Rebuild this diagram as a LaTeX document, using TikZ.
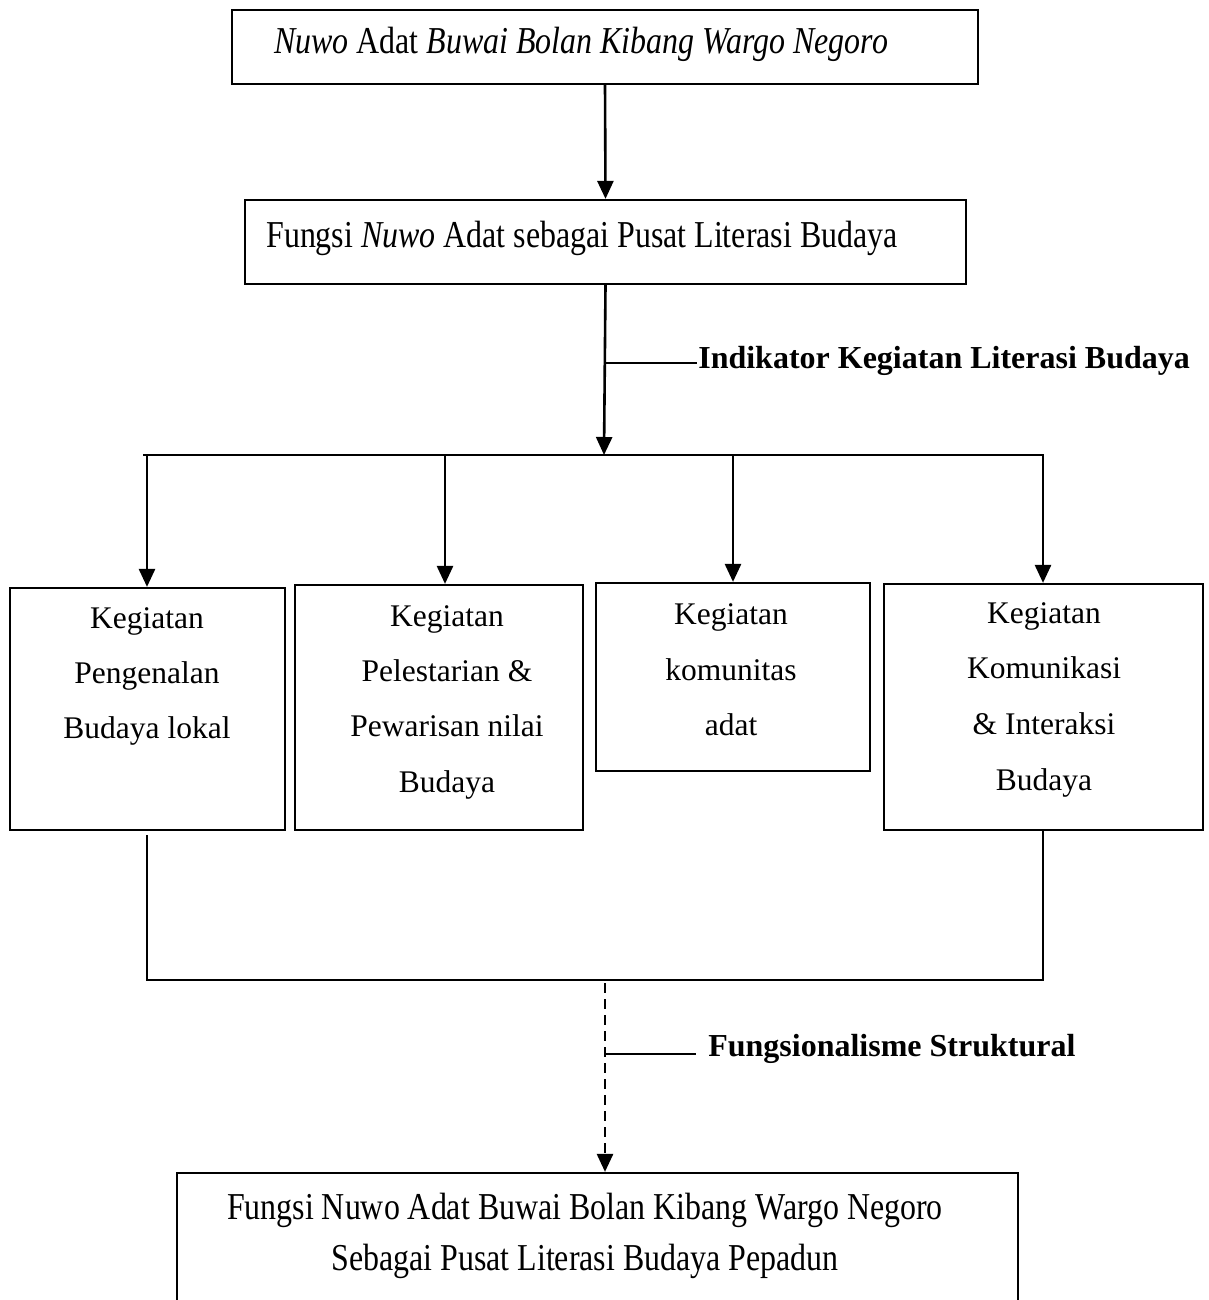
\documentclass[tikz,border=0pt]{standalone}
\usepackage{fontspec}
\setmainfont{Liberation Serif}
\newfontfamily\condf[FakeStretch=0.84]{Liberation Serif}
\usetikzlibrary{arrows.meta}
\begin{document}
\begin{tikzpicture}[x=1pt,y=-1pt, line width=2.6pt,
  box/.style={draw, line width=2.2pt, inner sep=0pt},
  arr/.style={-{Triangle[length=18pt,width=16pt]}},
  dashline/.style={dash pattern=on 10pt off 6pt},
  condtxt/.style={font=\condf\fontsize{38}{46}\selectfont, inner sep=0pt, anchor=base west},
  condc/.style={font=\condf\fontsize{38}{46}\selectfont, inner sep=0pt, anchor=base},
  acttxt/.style={font=\fontsize{31.5}{38}\selectfont, inner sep=0pt, anchor=base},
  boldlbl/.style={font=\bfseries\fontsize{32}{38}\selectfont, inner sep=0pt, anchor=base west}]
\useasboundingbox (0,0) rectangle (1209,1300);

% top boxes
\node[box, minimum width=746pt, minimum height=74pt] (top) at (605,47) {};
\node[condtxt] (toptxt) at (273,54) {{\itshape Nuwo} Adat {\itshape Buwai Bolan Kibang Wargo Negoro}};
\node[box, minimum width=721pt, minimum height=84pt] (fun) at (605.5,242) {};
\node[condtxt] (funtxt) at (265,247) {Fungsi {\itshape Nuwo} Adat sebagai Pusat Literasi Budaya};

% activity boxes
\node[box, minimum width=275pt, minimum height=242pt] (A) at (147.5,709) {};
\node[box, minimum width=288pt, minimum height=245pt] (B) at (439,707.5) {};
\node[box, minimum width=274pt, minimum height=188pt] (C) at (733,677) {};
\node[box, minimum width=319pt, minimum height=246pt] (D) at (1043.5,707) {};

\foreach \t [count=\i] in {Kegiatan, Pengenalan, Budaya lokal}
  \node[acttxt] (a\i) at (147,{573+55*\i}) {\t};
\foreach \t [count=\i] in {Kegiatan, Pelestarian \&, Pewarisan nilai, Budaya}
  \node[acttxt] (b\i) at (447,{571+55.3*\i}) {\t};
\foreach \t [count=\i] in {Kegiatan, komunitas, adat}
  \node[acttxt] (c\i) at (731,{569+55.5*\i}) {\t};
\foreach \t [count=\i] in {Kegiatan, Komunikasi, \& Interaksi, Budaya}
  \node[acttxt] (d\i) at (1044,{567.5+55.7*\i}) {\t};

% bottom box
\node[box, minimum width=841pt, minimum height=170pt] (bot) at (597.5,1258) {};
\node[condc] (bot1) at (585,1219) {Fungsi Nuwo Adat Buwai Bolan Kibang Wargo Negoro};
\node[condc] (bot2) at (585,1270) {Sebagai Pusat Literasi Budaya Pepadun};

% labels
\node[boldlbl] (ind) at (697,368) {Indikator Kegiatan Literasi Budaya};
\node[boldlbl] (fs) at (707,1056) {Fungsionalisme Struktural};

% connectors
\draw[arr] (top.south) -- (fun.north);
\coordinate (j0) at (604,455);
\draw[arr] (fun.south) -- (j0);
\coordinate (t1) at (606,363);
\draw (t1) -- (t1 -| ind.west);

\coordinate (hl) at (143,455);
\coordinate (hr) at (1044.3,455);
\draw (hl) -- (hr);
\coordinate (ja) at (147,455);
\coordinate (jb) at (445,455);
\coordinate (jc) at (733,455);
\coordinate (jd) at (1043,455);
\draw[arr] (ja) -- (ja |- A.north);
\draw[arr] (jb) -- (jb |- B.north);
\draw[arr] (jc) -- (jc |- C.north);
\draw[arr] (jd) -- (jd |- D.north);

\coordinate (la) at (147,835);
\coordinate (lb) at (147,980);
\coordinate (rb) at (1043,980);
\draw (la) -- (lb) -- (rb) -- (rb |- D.south);

\coordinate (dj) at (605,983);
\draw[arr, dashline] (dj) -- (dj |- bot.north);
\coordinate (t2) at (606,1054);
\coordinate (t2e) at (696,1054);
\draw (t2) -- (t2e);
\end{tikzpicture}
\end{document}
